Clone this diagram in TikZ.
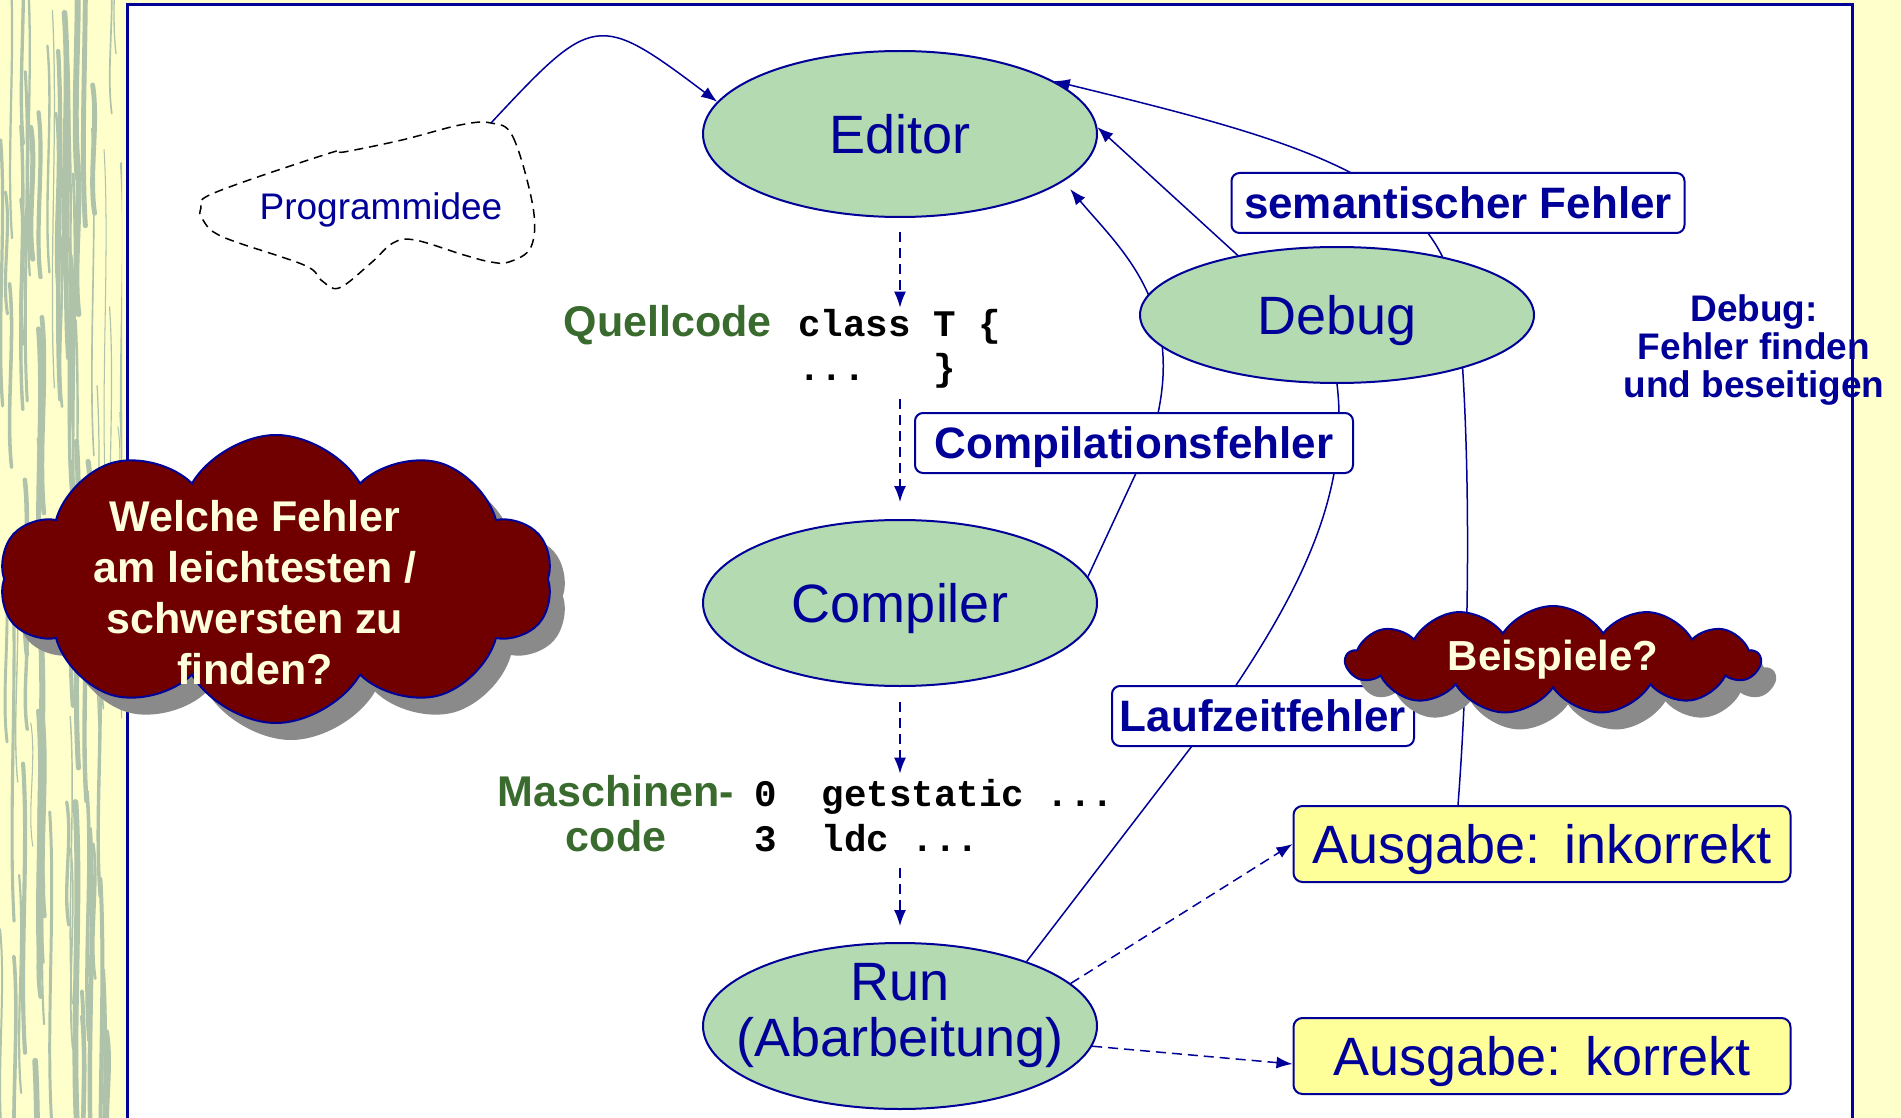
\documentclass[tikz,border=0pt]{standalone}
\usepackage{fontspec}
\setmainfont{Liberation Sans}
\newfontfamily\codefont{Liberation Mono}
\usepackage{tikz}
\usetikzlibrary{arrows.meta,shapes.geometric,shapes.symbols,shadows}
\definecolor{dunkelblau}{HTML}{000099}
\definecolor{blassgruen}{HTML}{B3DAB0}
\definecolor{textgruen}{HTML}{3A6B2E}
\definecolor{weinrot}{HTML}{700000}
\definecolor{creme}{HTML}{FFFFDD}
\definecolor{hellgelb}{HTML}{FFFF99}
\definecolor{papier}{HTML}{FFFFCC}
\definecolor{halm}{HTML}{AFC2AA}
\newcommand{\fsz}[2]{\fontsize{#1}{#2}\selectfont}
\pgfdeclarelayer{grund}
\pgfdeclarelayer{linien}
\pgfsetlayers{grund,linien,main}

\begin{document}
\begin{tikzpicture}[x=1pt,y=-1pt,
    phase/.style={ellipse, draw=dunkelblau, line width=2pt, fill=blassgruen, text=dunkelblau,
      font=\fsz{54}{56}, align=center, inner sep=-30pt, text depth=0pt,
      minimum width=394pt, minimum height=166pt},
    fehler/.style={draw=dunkelblau, line width=2pt, fill=white, rounded corners=8pt, text=dunkelblau,
      font=\bfseries\fsz{44}{46}, text depth=0pt, minimum height=60pt, inner sep=0pt},
    ausgabe/.style={draw=dunkelblau, line width=2pt, fill=hellgelb, rounded corners=9pt, text=dunkelblau,
      font=\fsz{54}{56}, text depth=0pt, minimum width=497pt, minimum height=76pt, inner sep=4pt},
    wolke/.style={cloud, cloud ignores aspect, draw=dunkelblau, line width=2pt, fill=weinrot, text=creme,
      drop shadow={shadow xshift=15pt, shadow yshift=-17pt, fill=black!46, opacity=1}},
    gruen/.style={text=textgruen, font=\bfseries\fsz{43}{45}, inner sep=0pt},
    quelltext/.style={font=\codefont\bfseries\fsz{37.5}{44}, inner sep=0pt, anchor=base west},
    pfad/.style={dunkelblau, line width=1.5pt},
    pfeil/.style={pfad, -{Latex[length=16pt,width=12pt]}},
    fluss/.style={pfeil, dash pattern=on 10pt off 6pt}]
  \useasboundingbox (0,0) rectangle (1901,1118);

  \begin{pgfonlayer}{grund}
    \fill[papier] (0,0) rectangle (1901,1118);
    \begin{scope}
      \clip (0,0) rectangle (122,1118);
      \pgfmathsetseed{11}
      \foreach \i in {1,...,80}{
        \pgfmathsetmacro\sx{rnd*125}
        \pgfmathsetmacro\sy{rnd*1200-120}
        \pgfmathsetmacro\sl{120+rnd*260}
        \pgfmathsetmacro\sw{1+rnd*5}
        \draw[halm, line width=\sw pt, line cap=round]
          (\sx,\sy) .. controls +(6,0.3*\sl) and +(-6,-0.3*\sl) .. +(2,\sl);
      }
    \end{scope}
    \fill[white] (127,5) rectangle (1852,1140);
  \end{pgfonlayer}

  \node[phase] (editor) at (900,134) {Editor};
  \node[phase] (compiler) at (900,603) {Compiler};
  \node[phase, text depth=33pt] (run) at (900,1026) {Run\\(Abarbeitung)};
  \node[phase, minimum height=136pt] (debug) at (1337,315) {Debug};

  \node[fehler, minimum width=453pt] (sem) at (1458,203) {semantischer Fehler};
  \node[fehler, minimum width=438pt] (cf) at (1134,443) {Compilationsfehler};
  \node[fehler, minimum width=302pt] (lauf) at (1263,716) {Laufzeitfehler};

  \node[ausgabe] (inkorrekt) at (1542,844) {Ausgabe:\hspace{0.45em}inkorrekt};
  \node[ausgabe] (korrekt) at (1542,1056) {Ausgabe:\hspace{0.45em}korrekt};

  \node[gruen, anchor=base east] (quelle) at (772,336) {Quellcode};
  \node[quelltext] (src1) at (798,336) {class T \{};
  \node[quelltext] (src2) at (798,380) {...\ \ \ \}};
  \node[gruen, align=center] (maschine) at (616,814) {Maschinen-\\code};
  \node[quelltext] (mc1) at (754,806) {0\ \ getstatic ...};
  \node[quelltext] (mc2) at (754,851) {3\ \ ldc ...};

  \draw[black, line width=1.5pt, dash pattern=on 9pt off 6pt] plot[smooth cycle, tension=0.6]
    coordinates {(491,123) (513,137) (533,207) (531,247) (509,262) (491,262) (464,255) (415,240)
      (393,243) (371,263) (339,288) (321,280) (304,265) (223,237) (203,220) (201,208) (214,193)
      (330,153) (344,152) (402,140) (460,125)};
  \node[text=dunkelblau, font=\fsz{37}{39}, inner sep=0pt] (idee) at (381,210) {Programmidee};
  \coordinate (ideespitze) at (491,123);
  \draw[pfeil] (ideespitze) .. controls +(47:150pt) and +(143:150pt) .. (editor.170);

  \draw[fluss, shorten <=14pt, shorten >=1pt] (editor.south) -- (editor.south |- src1.north);
  \draw[fluss, shorten <=11pt, shorten >=17pt] (compiler.north |- src2.south) -- (compiler.north);
  \draw[fluss, shorten <=15pt, shorten >=5pt] (compiler.south) -- (compiler.south |- mc1.north);
  \draw[fluss, shorten <=16pt, shorten >=16pt] (run.north |- mc2.south) -- (run.north);
  \draw[fluss] (run.14) -- (inkorrekt.west);
  \draw[fluss] (run.-6) -- ([yshift=-8pt]korrekt.west);

  \begin{pgfonlayer}{linien}
    \draw[pfeil] (compiler.8) -- ([xshift=16pt]cf.center)
      .. controls +(43,-133) and +(51,61) .. ([xshift=13pt,yshift=-4pt]editor.-18);
    \draw[pfeil] (run.27) -- ([xshift=-48pt]lauf.center)
      .. controls +(86,-123) and +(13,109) .. (debug.south) -- (debug.149) -- (editor.2);
    \draw[pfeil] ([xshift=-84pt]inkorrekt.north)
      .. controls +(12,-156) and +(7,112) .. (debug.-23) -- (debug.29)
      .. controls +(-44,-90) and +(205,50) .. (editor.19);
  \end{pgfonlayer}

  \node[text=dunkelblau, font=\bfseries\fsz{37}{38}, align=center, inner sep=0pt] (hinweis)
    at (1754,350) {Debug:\\Fehler finden\\und beseitigen};
  \draw[dunkelblau, line width=3pt] (127,5) rectangle (1852,1140);

  \node[wolke, cloud puffs=10, cloud puff arc=120, minimum width=553pt, minimum height=288pt]
    (frage) at (276,579) {};
  \node[text=creme, font=\bfseries\fsz{43}{51}, align=center, inner sep=0pt] (fragetext)
    at (255,593) {Welche Fehler\\am leichtesten /\\schwersten zu\\finden?};
  \node[wolke, cloud puffs=13, cloud puff arc=115, minimum width=414pt, minimum height=108pt,
    inner sep=0pt, font=\bfseries\fsz{42}{44}] (beispiele) at (1553,660) {Beispiele?};
\end{tikzpicture}
\end{document}
